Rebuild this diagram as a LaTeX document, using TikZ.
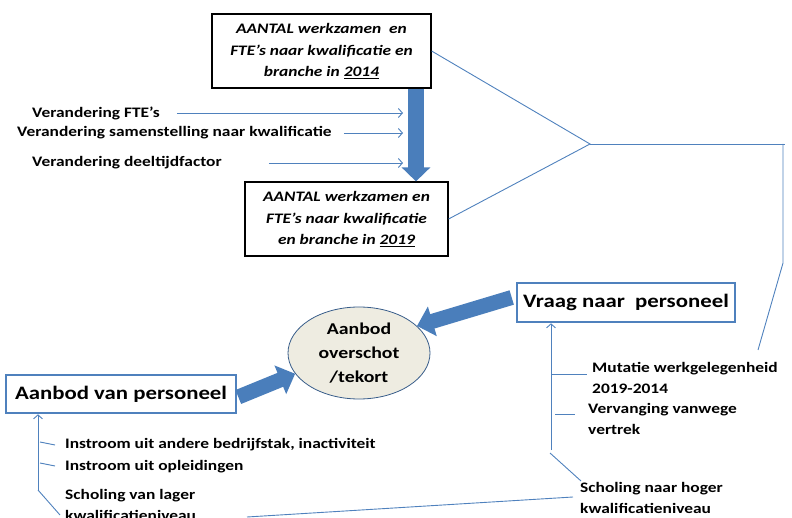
\documentclass[tikz,border=0pt]{standalone}
\usepackage{fontspec}
\setmainfont{Carlito}[FakeStretch=1.2]
\usetikzlibrary{arrows.meta,shapes.geometric,calc}
\definecolor{linkblue}{RGB}{79,129,189}
\definecolor{arrowblue}{RGB}{74,126,187}
\definecolor{ovaledge}{RGB}{56,93,138}
\definecolor{ovalfill}{RGB}{238,236,225}
\begin{document}
\begin{tikzpicture}[x=1pt,y=-1pt,
  every node/.style={font=\fontsize{14.5}{21}\selectfont\bfseries, inner sep=0pt},
  countbox/.style={draw=black, line width=1.2pt, fill=white, align=center,
    font=\fontsize{14.5}{21.5}\selectfont\bfseries\itshape},
  sidebox/.style={draw=linkblue, line width=2.6pt, fill=white,
    font=\fontsize{19}{22}\selectfont\bfseries},
  thinline/.style={draw=linkblue, line width=0.9pt},
  thinarrow/.style={thinline, -{Straight Barb[length=4pt,width=9pt]}},
  bigarrow/.style={draw=arrowblue, line width=15pt, -{Triangle[length=16pt,width=30pt]}},
  lbl/.style={anchor=west, align=left}]
\useasboundingbox (0,0) rectangle (792,518);

% headcount boxes
\node[countbox, minimum width=219pt, minimum height=74pt] (b1) at (321.5,51)
  {AANTAL werkzamen\ \ en\\FTE’s naar kwalificatie en\\branche in \underline{2014}};
\node[countbox, minimum width=203pt, minimum height=74pt] (b2) at (346.5,219)
  {AANTAL werkzamen en\\FTE’s naar kwalificatie\\en branche in \underline{2019}};

% change factors
\node[lbl] (v1) at (32,113) {Verandering FTE’s};
\node[lbl] (v2) at (17,133) {Verandering samenstelling naar kwalificatie};
\node[lbl] (v3) at (32,163) {Verandering deeltijdfactor};

\coordinate (ax) at (403,0);
\coordinate (sx) at (416,0);
\draw[bigarrow, line width=16pt, -{Triangle[length=14pt,width=28pt]}]
  (b1.south -| sx) -- (b2.north -| sx);
\draw[thinarrow] ([xshift=17pt]v1.east) -- (v1.east -| ax);
\draw[thinarrow] ([xshift=12pt]v2.east) -- (v2.east -| ax);
\draw[thinarrow] ([xshift=47pt]v3.east) -- (v3.east -| ax);

% supply, demand and balance
\node[ellipse, draw=ovaledge, line width=0.8pt, fill=ovalfill, minimum width=142pt,
  minimum height=92pt, align=center, font=\fontsize{16.5}{24}\selectfont\bfseries]
  (el) at (359,353) {Aanbod\\overschot\\/tekort};
\node[sidebox, minimum width=218pt, minimum height=39pt] (vr) at (626,302.5)
  {Vraag naar\ \ personeel};
\node[sidebox, minimum width=230pt, minimum height=38pt] (aa) at (121,394)
  {Aanbod van personeel};

\draw[bigarrow] ($(aa.east)+(1,3)$) -- (el.198);
\draw[bigarrow] ($(vr.west)+(-4,-5)$) -- (el.25);

% bracket linking both years to demand
\coordinate (J) at (590,144);
\coordinate (K1) at (785,144);
\coordinate (K2) at (783,144);
\coordinate (K3) at (783,263);
\coordinate (K4) at (758,350);
\draw[thinline] (b1.east) -- (J) -- (b2.east);
\draw[thinline] (J) -- (K1);
\draw[thinline] (K2) -- (K3) -- (K4);

% demand components
\node[lbl] (mu) at (592,377.5) {Mutatie werkgelegenheid\\2019-2014};
\node[lbl] (ve) at (588,419) {Vervanging vanwege\\vertrek};
\node[lbl] (sh) at (580,498) {Scholing naar hoger\\kwalificatieniveau};
\coordinate (vb) at (551,450);
\draw[thinarrow] (vb) -- (vr.south -| vb);
\draw[thinline] (551,374) -- (587,374);
\draw[thinline] (555,414) -- (575,414);
\draw[thinline] (550,453) -- (581,481);

% supply components
\node[lbl] (i1) at (65,445) {Instroom uit andere bedrijfstak, inactiviteit};
\node[lbl] (i2) at (65,467) {Instroom uit opleidingen};
\node[lbl] (sl) at (65,504.5) {Scholing van lager\\kwalificatieniveau};
\coordinate (ab) at (38,490);
\draw[thinarrow] (ab) -- (aa.south -| ab);
\draw[thinline] (40,442) -- (55,445);
\draw[thinline] (40,463) -- (55,466);
\draw[thinline] (ab) -- (60,515);

% link between the two training flows
\draw[thinline] (247,517) -- (573,497);
\end{tikzpicture}
\end{document}
